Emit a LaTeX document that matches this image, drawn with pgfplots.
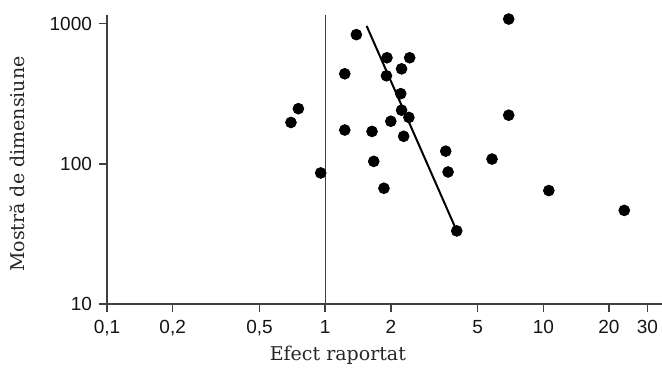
\documentclass[border=0pt]{standalone}
\usepackage{fontspec}
\setmainfont{DejaVu Serif}
\newfontfamily\tickfont{Liberation Sans}
\usepackage{pgfplots}
\pgfplotsset{compat=1.18}
\begin{document}
\begin{tikzpicture}
\useasboundingbox (-53.5pt,-35pt) rectangle (277.5pt,152pt);
\begin{axis}[
  scale only axis, width=277.5pt, height=144.5pt,
  xmode=log, ymode=log,
  xmin=0.1, xmax=35, ymin=10, ymax=1150,
  axis x line=bottom, axis y line=left,
  axis line style={-, line width=0.8pt, black!75},
  xtick={0.1,0.2,0.5,1,2,5,10,20,30},
  xticklabels={0{,}1,0{,}2,0{,}5,1,2,5,10,20,30},
  ytick={10,100,1000}, yticklabels={10,100,1000},
  xminorticks=false, yminorticks=false,
  tick align=outside, major tick length=4pt,
  tick style={line width=0.8pt, black!75},
  tick label style={font=\tickfont\fontsize{9.5}{11}\selectfont, text=black!92},
  xticklabel style={yshift=-0.8pt},
  clip=false,
]
\addplot[black!75, line width=0.6pt] coordinates {(1,10) (1,1150)};
\addplot[black, line width=1pt] coordinates {(1.55,960) (4.01,33.2)};
\addplot[only marks, mark=*, mark size=2.7pt, black] table {
x y
1.39 833
1.92 570
2.44 570
2.24 475
1.23 438
1.91 424
2.22 316
0.754 247
0.697 197
2.24 241
2.42 214
2.0 201
1.23 174
1.64 170
2.29 157
3.57 123
1.67 104
5.82 108
0.954 86
3.66 87.4
1.86 66.9
10.6 64.4
23.5 46.5
4.01 33.2
6.94 1076
6.94 222
};
\node[anchor=center, font=\fontsize{9.5}{11}\selectfont, text=black!85] at (rel axis cs:0.416,0) [yshift=-25.5pt] {Efect raportat};
\end{axis}
\node[rotate=90, anchor=center, font=\fontsize{9.5}{11}\selectfont, text=black!85] at (-45pt, 0.484*144.5pt) {Mostră de dimensiune};
\end{tikzpicture}
\end{document}
